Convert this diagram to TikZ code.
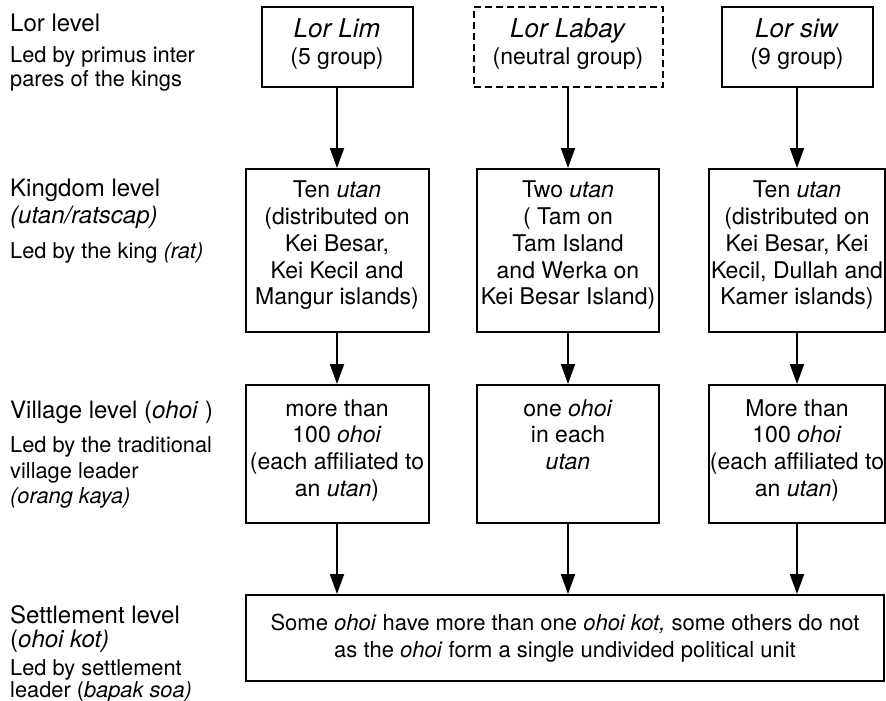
\documentclass[tikz,border=0pt]{standalone}
\usepackage{fontspec}
\setmainfont{TeX Gyre Heros}
\usetikzlibrary{arrows.meta}
\newcommand{\lowpad}[1]{\rule[-#1]{0pt}{1pt}}
\tikzset{
  head/.style={anchor=base west, inner sep=0pt, font=\fontsize{24}{27}\selectfont},
  lbl/.style={anchor=base west, inner sep=0pt, font=\fontsize{21.8}{24}\selectfont},
  box/.style={draw, line width=2pt, align=center, inner sep=0pt, font=\fontsize{23}{26.8}\selectfont},
  dbox/.style={box, dash pattern=on 7pt off 4pt},
  arr/.style={line width=2pt, -{Triangle[length=20pt,width=14pt]}}
}
\begin{document}
\begin{tikzpicture}[x=1pt,y=-1pt]
\useasboundingbox (0,0) rectangle (886,701);
% left labels
\node[head] (l1) at (10,32) {Lor level};
\node[lbl] (l1b) at (10,63) {Led by primus inter};
\node[lbl] (l1c) at (10,86) {pares of the kings};
\node[head] (l2) at (10,196) {Kingdom level};
\node[head] (l2a) at (10,223) {\textit{(utan/ratscap)}};
\node[lbl] (l2b) at (10,258) {Led by the king \textit{(rat)}};
\node[head] (l3) at (10,418) {Village level (\textit{ohoi} )};
\node[lbl] (l3b) at (10,452) {Led by the traditional};
\node[lbl] (l3c) at (10,478) {village leader};
\node[lbl] (l3d) at (10,503) {\textit{(orang kaya)}};
\node[head] (l4) at (10,623) {Settlement level};
\node[head] (l4a) at (10,647) {(\textit{ohoi kot)}};
\node[lbl] (l4b) at (10,675) {Led by settlement};
\node[lbl] (l4c) at (10,697) {leader (\textit{bapak soa)}};
% top boxes
\node[box, minimum width=151pt, minimum height=80pt] (t1) at (337,47) {{\fontsize{26}{24}\selectfont\textit{Lor Lim}}\\(5 group)\lowpad{11pt}};
\node[dbox, minimum width=189pt, minimum height=80pt] (t2) at (568,47) {{\fontsize{26}{24}\selectfont\textit{Lor Labay}}\\(neutral group)\lowpad{11pt}};
\node[box, minimum width=151pt, minimum height=80pt] (t3) at (797,47) {{\fontsize{26}{24}\selectfont\textit{Lor siw}}\\(9 group)\lowpad{11pt}};
% kingdom boxes
\node[box, minimum width=183pt, minimum height=163pt] (k1) at (337,250.5) {Ten \textit{utan}\\(distributed on\\Kei Besar,\\Kei Kecil and\\Mangur islands)\lowpad{15pt}};
\node[box, minimum width=182pt, minimum height=163pt] (k2) at (568,250.5) {Two \textit{utan}\\( Tam on\\Tam Island\\and Werka on\\Kei Besar Island)\lowpad{15pt}};
\node[box, minimum width=176pt, minimum height=163pt] (k3) at (797,250.5) {Ten \textit{utan}\\(distributed on\\Kei Besar, Kei\\Kecil, Dullah and\\Kamer islands)\lowpad{15pt}};
% village boxes
\node[box, minimum width=183pt, minimum height=138pt] (v1) at (337,454) {more than\\100 \textit{ohoi}\\(each affiliated to\\an \textit{utan})\lowpad{12pt}};
\node[box, minimum width=182pt, minimum height=138pt] (v2) at (568,454) {one \textit{ohoi}\\in each\\\textit{utan}\\\strut\lowpad{12pt}};
\node[box, minimum width=176pt, minimum height=138pt] (v3) at (797,454) {More than\\100 \textit{ohoi}\\(each affiliated to\\an \textit{utan})\lowpad{12pt}};
% settlement box
\node[box, font=\fontsize{22}{27.5}\selectfont, minimum width=638pt, minimum height=86pt] (s) at (565,638) {Some \textit{ohoi} have more than one \textit{ohoi kot,} some others do not\\as the \textit{ohoi} form a single undivided political unit};
% arrows
\draw[arr] (t1.south) -- (t1.south |- k1.north);
\draw[arr] (t2.south) -- (t2.south |- k2.north);
\draw[arr] (t3.south) -- (t3.south |- k3.north);
\draw[arr] (k1.south) -- (k1.south |- v1.north);
\draw[arr] (k2.south) -- (k2.south |- v2.north);
\draw[arr] (k3.south) -- (k3.south |- v3.north);
\draw[arr] (v1.south) -- (v1.south |- s.north);
\draw[arr] (v2.south) -- (v2.south |- s.north);
\draw[arr] (v3.south) -- (v3.south |- s.north);
\end{tikzpicture}
\end{document}
